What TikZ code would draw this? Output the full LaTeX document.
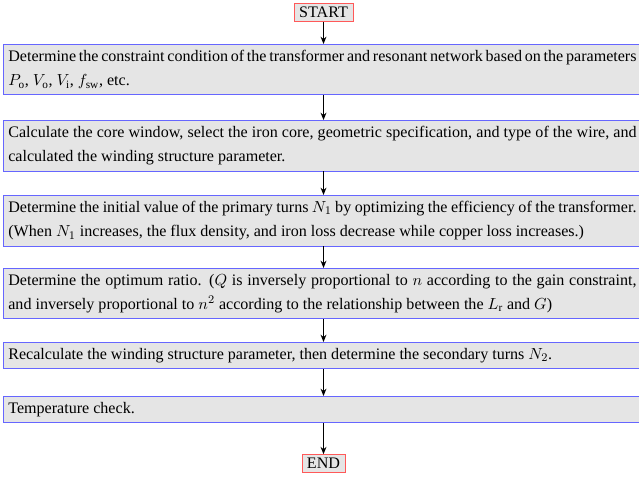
\documentclass[tikz,border=0pt]{standalone}
\usepackage{fontspec}
\setmainfont{Liberation Serif}
\usetikzlibrary{arrows.meta}

\begin{document}
\begin{tikzpicture}[x=0.6845pt, y=-0.6845pt,
    stepbox/.style={draw=blue!60, fill=gray!20, line width=0.5pt,
      text width=430pt, align=justify, inner xsep=3.4pt, inner ysep=4pt,
      anchor=north west, font=\fontsize{11}{16.5}\selectfont},
    termbox/.style={draw=red!65, fill=gray!20, line width=0.5pt,
      inner xsep=3.5pt, inner ysep=2.5pt, font=\fontsize{11}{13}\selectfont},
    flow/.style={-{Stealth[length=5pt,width=4pt]}, line width=1.1pt}]
    % Page frame (pixel coordinates, y downwards)
    \useasboundingbox (0,0) rectangle (639,478);

    % Terminals
    \node[termbox] (start) at (323.5,12.5) {START};
    \node[termbox] (end) at (323.5,463.5) {END};

    % Design steps
    \node[stepbox] (s1) at (3,44) {Determine the constraint condition of the transformer and resonant network based on the parameters $P_{\mathrm{o}}$, $V_{\mathrm{o}}$, $V_{\mathrm{i}}$, $f_{\mathrm{sw}}$, etc.};
    \node[stepbox] (s2) at (3,120) {Calculate the core window, select the iron core, geometric specification, and type of the wire, and calculated the winding structure parameter.};
    \node[stepbox] (s3) at (3,195) {Determine the initial value of the primary turns $N_1$ by optimizing the efficiency of the transformer. (When $N_1$ increases, the flux density, and iron loss decrease while copper loss increases.)};
    \node[stepbox] (s4) at (3,268) {Determine the optimum ratio. ($Q$ is inversely proportional to $n$ according to the gain constraint, and inversely proportional to $n^2$ according to the relationship between the $L_{\mathrm{r}}$ and $G$)};
    \node[stepbox] (s5) at (3,342) {Recalculate the winding structure parameter, then determine the secondary turns $N_2$.};
    \node[stepbox] (s6) at (3,396) {Temperature check.};

    % Connectors, all on the axis of START
    \foreach \a/\b in {start/s1, s1/s2, s2/s3, s3/s4, s4/s5, s5/s6, s6/end} {
      \draw[flow] (start |- \a.south) -- (start |- \b.north);
    }
\end{tikzpicture}
\end{document}
